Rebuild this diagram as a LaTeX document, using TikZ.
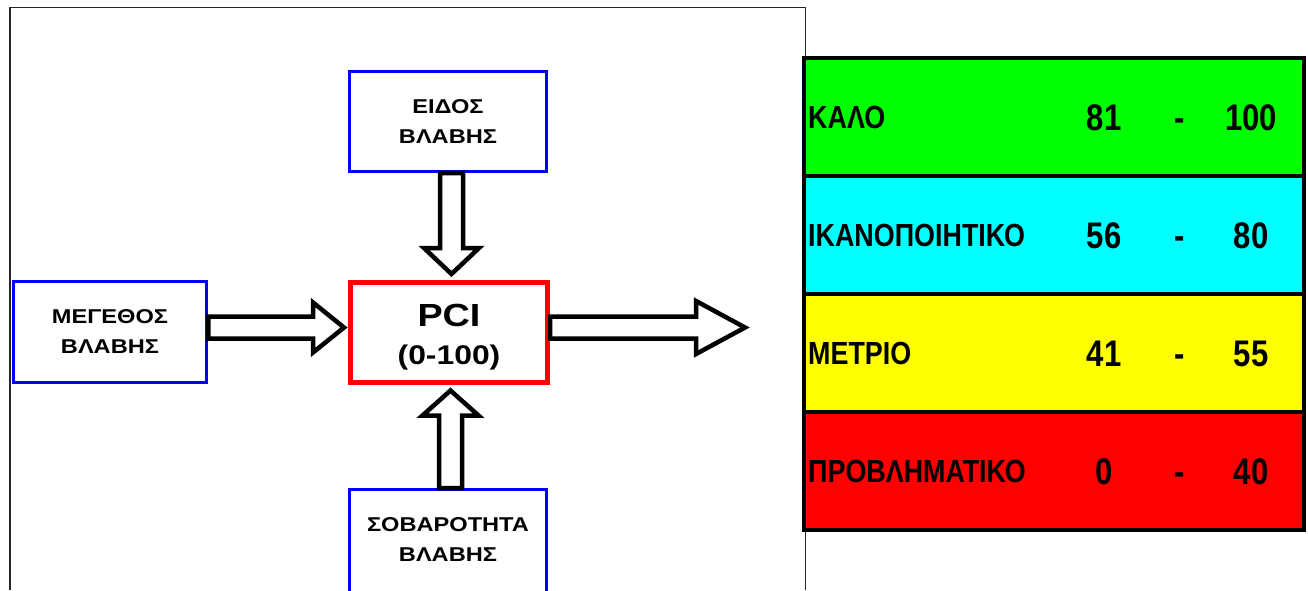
\documentclass[tikz,border=0pt]{standalone}
\usepackage{fontspec}
\setmainfont{Liberation Sans}
\newfontfamily\boxfont{Liberation Sans}[FakeStretch=1.18]
\newfontfamily\tabfont{Liberation Sans}[FakeStretch=0.84]
\usetikzlibrary{calc}
\definecolor{pblue}{RGB}{0,0,255}
\definecolor{pred}{RGB}{255,0,0}
\definecolor{pgreen}{RGB}{0,255,0}
\definecolor{pcyan}{RGB}{0,255,255}
\definecolor{pyellow}{RGB}{255,255,0}
\begin{document}
\begin{tikzpicture}[x=1pt,y=-1pt,
  inbox/.style={draw=pblue, line width=3pt, fill=white, minimum width=197pt,
    minimum height=100pt, inner sep=0pt, align=center,
    font=\boxfont\bfseries\fontsize{20}{30}\selectfont},
  boxtext/.style={inner sep=0pt, align=center,
    font=\boxfont\bfseries\fontsize{20}{30}\selectfont},
  pcibox/.style={draw=pred, line width=5pt, fill=white, minimum width=197pt,
    minimum height=100pt, inner sep=0pt},
  blk/.style={draw=black, line width=4.5pt, fill=white, line join=miter},
  frameline/.style={draw=black!85, line width=1.8pt},
  trow/.style={draw=black, line width=4pt, minimum width=500pt,
    minimum height=118pt, inner sep=0pt},
  tlabel/.style={inner sep=0pt, anchor=base west,
    font=\tabfont\bfseries\fontsize{32}{32}\selectfont},
  tnum/.style={inner sep=0pt, anchor=base,
    font=\tabfont\bfseries\fontsize{37}{37}\selectfont}
]
\useasboundingbox[fill=white] (0,0) rectangle (1308,590);

% outer frame (open at the bottom)
\draw[frameline] (10,590) -- (10,7.5) -- (805.5,7.5) -- (805.5,590);

% boxes
\node[inbox] (eidos) at (448,121.5) {ΕΙΔΟΣ\\ΒΛΑΒΗΣ};
\node[inbox, minimum width=193.5pt, minimum height=101pt] (meg) at (110,332) {ΜΕΓΕΘΟΣ\\ΒΛΑΒΗΣ};
\node[inbox, minimum height=140pt] (sob) at (448,559.5) {};
\node[boxtext] (sobtxt) at (448,540) {ΣΟΒΑΡΟΤΗΤΑ\\ΒΛΑΒΗΣ};
\node[pcibox] (pci) at (449,332.5) {};
\node[inner sep=0pt, anchor=base, font=\boxfont\bfseries\fontsize{32}{32}\selectfont]
  (pcit) at ($(pci.center)+(0,-6)$) {PCI};
\node[inner sep=0pt, anchor=base, font=\boxfont\bfseries\fontsize{27}{27}\selectfont]
  (pcir) at ($(pci.center)+(0,32)$) {(0-100)};

% block arrows
\coordinate (ttip) at ($(pci.north)+(2.5,-6)$);
\draw[blk] ($(eidos.south)+(-8,0)$) -- ($(ttip)+(-11.5,-26)$) -- ($(ttip)+(-27.5,-26)$)
  -- (ttip) -- ($(ttip)+(27.5,-26)$) -- ($(ttip)+(11.5,-26)$) -- ($(eidos.south)+(15,0)$) -- cycle;

\coordinate (btip) at ($(pci.south)+(1.5,5.5)$);
\draw[blk] ($(sob.north)+(-9,0)$) -- ($(btip)+(-11.5,25)$) -- ($(btip)+(-28,25)$)
  -- (btip) -- ($(btip)+(28,25)$) -- ($(btip)+(11.5,25)$) -- ($(sob.north)+(14,0)$) -- cycle;

\coordinate (ltip) at ($(pci.west)+(-4,-5)$);
\draw[blk] ($(meg.east)+(0,-15.5)$) -- ($(ltip)+(-31,-11)$) -- ($(ltip)+(-31,-25)$)
  -- (ltip) -- ($(ltip)+(-31,25)$) -- ($(ltip)+(-31,11)$) -- ($(meg.east)+(0,6.5)$) -- cycle;

\coordinate (rtip) at ($(pci.east)+(195,-5)$);
\draw[blk] ($(pci.east)+(0,-16)$) -- ($(rtip)+(-49,-11)$) -- ($(rtip)+(-49,-26.5)$)
  -- (rtip) -- ($(rtip)+(-49,26.5)$) -- ($(rtip)+(-49,11)$) -- ($(pci.east)+(0,6)$) -- cycle;

% table
\node[trow, fill=pgreen]  (r1) at (1054,117) {};
\node[trow, fill=pcyan]   (r2) at (1054,235) {};
\node[trow, fill=pyellow] (r3) at (1054,353) {};
\node[trow, fill=pred]    (r4) at (1054,471) {};

\node[tlabel] (l1) at ($(r1.west)+(6,11.5)$) {ΚΑΛΟ};
\node[tlabel] (l2) at ($(r2.west)+(6,11.5)$) {ΙΚΑΝΟΠΟΙΗΤΙΚΟ};
\node[tlabel] (l3) at ($(r3.west)+(6,11.5)$) {ΜΕΤΡΙΟ};
\node[tlabel] (l4) at ($(r4.west)+(6,11.5)$) {ΠΡΟΒΛΗΜΑΤΙΚΟ};

\node[tnum] (a1) at ($(r1.center)+(50,13.5)$) {81};
\node[tnum] (d1) at ($(r1.center)+(126,13.5)$) {-};
\node[tnum] (b1) at ($(r1.center)+(197,13.5)$) {100};
\node[tnum] (a2) at ($(r2.center)+(50,13.5)$) {56};
\node[tnum] (d2) at ($(r2.center)+(126,13.5)$) {-};
\node[tnum] (b2) at ($(r2.center)+(197,13.5)$) {80};
\node[tnum] (a3) at ($(r3.center)+(50,13.5)$) {41};
\node[tnum] (d3) at ($(r3.center)+(126,13.5)$) {-};
\node[tnum] (b3) at ($(r3.center)+(197,13.5)$) {55};
\node[tnum] (a4) at ($(r4.center)+(50,13.5)$) {0};
\node[tnum] (d4) at ($(r4.center)+(126,13.5)$) {-};
\node[tnum] (b4) at ($(r4.center)+(197,13.5)$) {40};
\end{tikzpicture}
\end{document}
